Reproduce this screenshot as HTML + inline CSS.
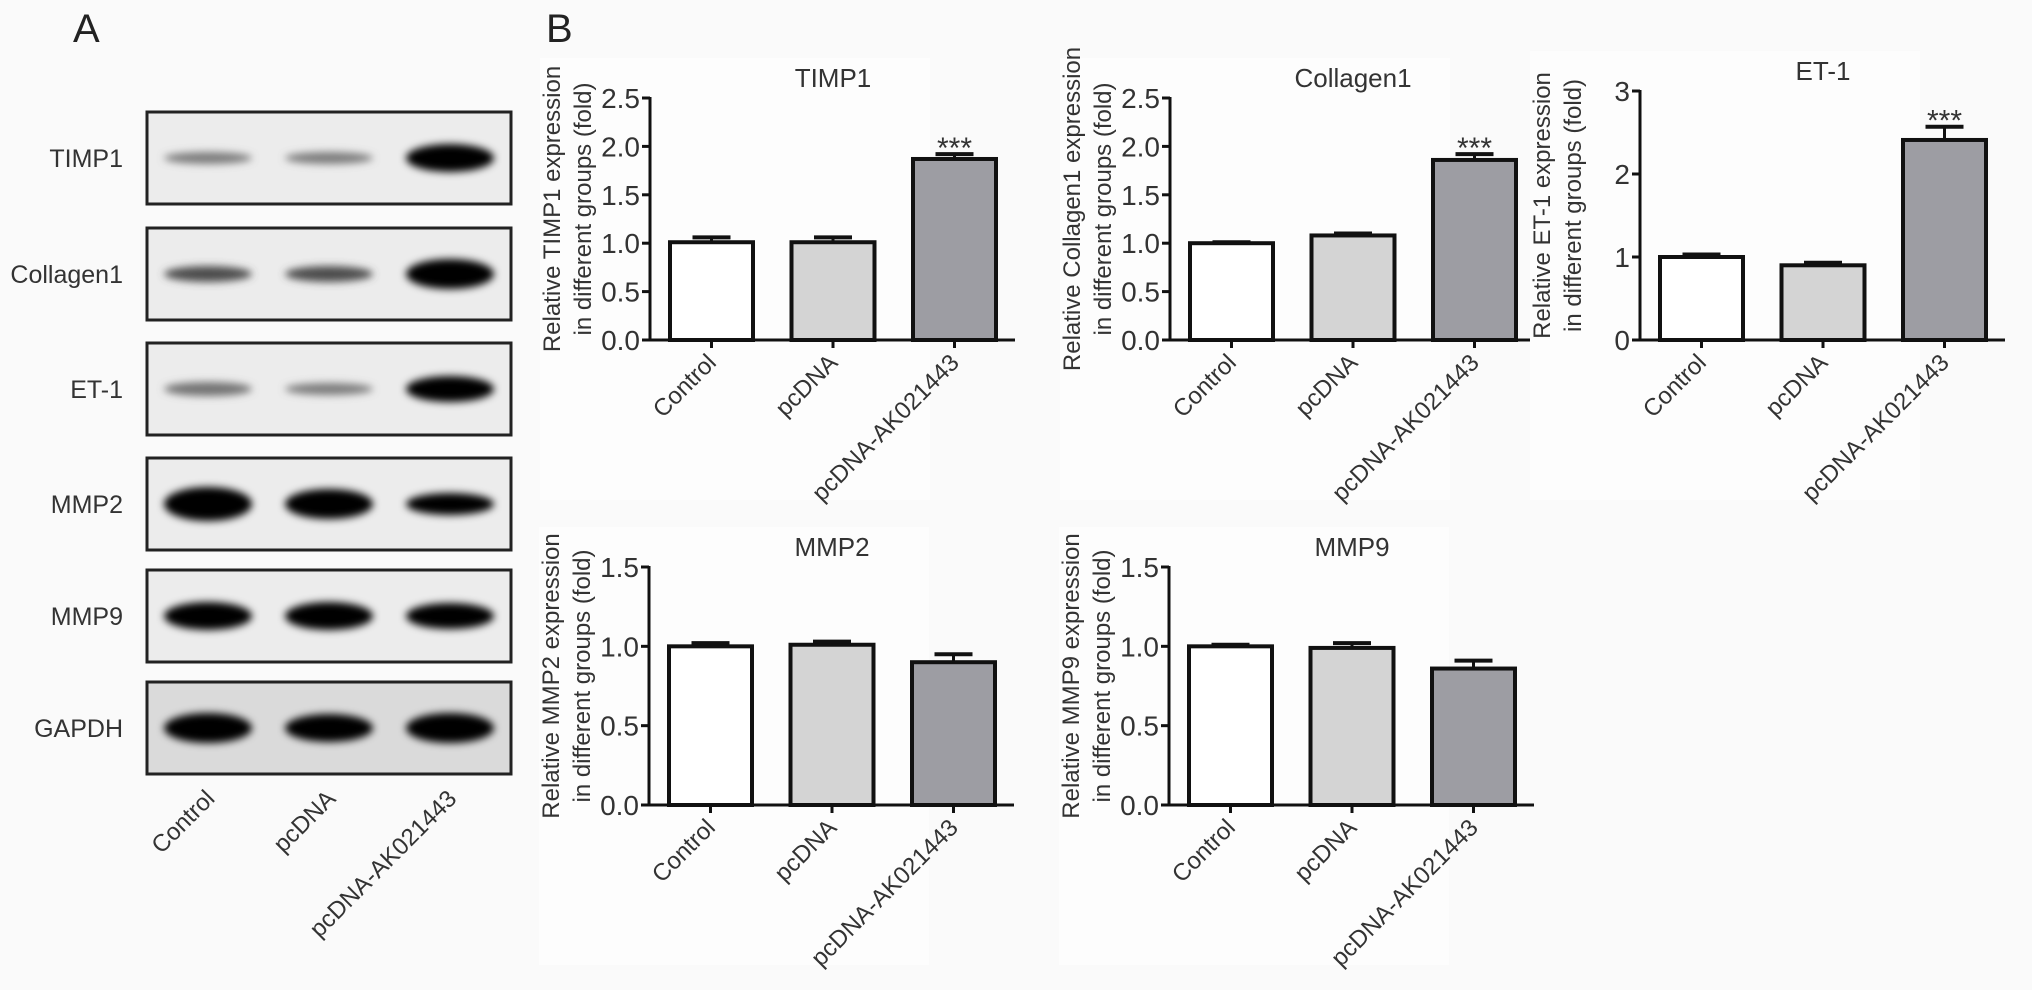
<!DOCTYPE html>
<html><head><meta charset="utf-8"><style>
html,body{margin:0;padding:0;background:#fafafa;}
svg{display:block;font-family:"Liberation Sans",Arial,sans-serif;}
</style></head><body>
<svg id="fig" width="2032" height="990" viewBox="0 0 2032 990">
<defs>
<filter id="blur" x="-30%" y="-100%" width="160%" height="300%"><feGaussianBlur stdDeviation="4"/></filter>
</defs>
<rect x="0" y="0" width="2032" height="990" fill="#fafafa"/>
<text x="73" y="42" font-size="40" fill="#222">A</text>
<text x="546" y="42" font-size="40" fill="#222">B</text>
<g id="blot"></g>
<g id="charts"></g>
</svg>
<script>
const NS="http://www.w3.org/2000/svg";
function mk(tag,attrs,parent,text){const e=document.createElementNS(NS,tag);for(const k in attrs)e.setAttribute(k,attrs[k]);if(text!==undefined)e.textContent=text;parent.appendChild(e);return e;}

// ---- Western blot data ----
const blotProteins=["TIMP1","Collagen1","ET-1","MMP2","MMP9","GAPDH"];
const blotTops=[112,228,343,458,570,682];
const laneNames=["Control","pcDNA","pcDNA-AK021443"];
const bandIntensity=[[0.35,0.35,1],[0.6,0.6,1],[0.4,0.35,1],[1,1,1],[1,1,1],[1,1,1]];
const bandThickness=[[6,6,14],[8,8,15],[7,6,13],[17,15,11],[14,14,13],[15,14,15]];
const laneX=[208,329,450];

const blot=document.getElementById('blot');
blotProteins.forEach((p,i)=>{
  const top=blotTops[i];
  const g=mk('g',{},blot);
  
  
  const bg=mk('rect',{x:147,y:top,width:364,height:92,fill:i===5?'#dadada':'#ececec',stroke:'#222','stroke-width':3},g);
  
  
  const lab=mk('text',{x:123,y:top+55,'font-size':25,'text-anchor':'end',fill:'#333'},g,p);
  
  
  laneX.forEach((lx,j)=>{
    const v=bandIntensity[i][j];
    const c=Math.round(255*(1-v)*0.75);
    const b=mk('ellipse',{cx:lx,cy:top+46,rx:44,ry:bandThickness[i][j],fill:`rgb(${c},${c},${c})`,filter:'url(#blur)'},g);
    
    
  });
});
laneNames.forEach((n,j)=>{
  const t=mk('text',{x:laneX[j]+8,y:800,'font-size':24,'text-anchor':'end',fill:'#333',transform:`rotate(-45 ${laneX[j]+8} 800)`},blot,n);
  
  
});

// ---- Bar chart data ----
const categories=["Control","pcDNA","pcDNA-AK021443"];
const chartTitles=["TIMP1","Collagen1","ET-1","MMP2","MMP9"];
const timp1Values=[1.01,1.01,1.87];
const timp1Errors=[0.05,0.05,0.05];
const collagen1Values=[1.0,1.08,1.86];
const collagen1Errors=[0.01,0.02,0.06];
const et1Values=[1.0,0.9,2.41];
const et1Errors=[0.03,0.03,0.16];
const mmp2Values=[1.0,1.01,0.9];
const mmp2Errors=[0.02,0.02,0.05];
const mmp9Values=[1.0,0.99,0.86];
const mmp9Errors=[0.01,0.03,0.05];
const yMaxes=[2.5,2.5,3,1.5,1.5];
const tickLabelsTIMP1=["0.0","0.5","1.0","1.5","2.0","2.5"];
const tickLabelsCollagen1=["0.0","0.5","1.0","1.5","2.0","2.5"];
const tickLabelsET1=["0","1","2","3"];
const tickLabelsMMP2=["0.0","0.5","1.0","1.5"];
const tickLabelsMMP9=["0.0","0.5","1.0","1.5"];
const significance=["","","***"];

const charts=[
 {title:"TIMP1",vals:timp1Values,errs:timp1Errors,ticks:tickLabelsTIMP1,max:yMaxes[0],ax:650,y0:340,y1:98,sig:true},
 {title:"Collagen1",vals:collagen1Values,errs:collagen1Errors,ticks:tickLabelsCollagen1,max:yMaxes[1],ax:1170,y0:340,y1:98,sig:true},
 {title:"ET-1",vals:et1Values,errs:et1Errors,ticks:tickLabelsET1,max:yMaxes[2],ax:1640,y0:340,y1:91,sig:true},
 {title:"MMP2",vals:mmp2Values,errs:mmp2Errors,ticks:tickLabelsMMP2,max:yMaxes[3],ax:649,y0:805,y1:567,sig:false},
 {title:"MMP9",vals:mmp9Values,errs:mmp9Errors,ticks:tickLabelsMMP9,max:yMaxes[4],ax:1169,y0:805,y1:567,sig:false}
];
const fills=["#ffffff","#d4d4d4","#9d9da3"];
const root=document.getElementById('charts');
charts.forEach((c)=>{
  const g=mk('g',{},root);
  
  
  const y=v=>c.y0-(v/c.max)*(c.y0-c.y1);
  const bx=i=>c.ax+20+i*121.5;
  const bw=83;
  mk('rect',{x:c.ax-110,y:c.y1-40,width:390,height:c.y0-c.y1+200,fill:'#fdfdfd'},g);
  const tt=mk('text',{x:c.ax+183,y:c.y1-11,'font-size':26,'text-anchor':'middle',fill:'#333'},g,c.title);
  
  
  const cy=(c.y0+c.y1)/2-10;
  const yt=mk('text',{x:0,y:0,'font-size':24,'text-anchor':'middle',fill:'#333',transform:`translate(${c.ax-90} ${cy}) rotate(-90)`},g);
  
  
  mk('tspan',{x:0,dy:0},yt,`Relative ${c.title} expression`);
  mk('tspan',{x:0,dy:31},yt,'in different groups (fold)');
  c.vals.forEach((v,i)=>{
    const top=y(v);
    const b=mk('rect',{x:bx(i),y:top,width:bw,height:c.y0-top,fill:fills[i],stroke:'#111','stroke-width':4},g);
    
    
    const cx=bx(i)+bw/2, et=y(v+c.errs[i]);
    const e1=mk('line',{x1:cx,x2:cx,y1:top,y2:et,stroke:'#111','stroke-width':3},g);
    
    
    const e2=mk('line',{x1:cx-19,x2:cx+19,y1:et,y2:et,stroke:'#111','stroke-width':4},g);
    
    
    if(c.sig&&significance[i]){
      const s=mk('text',{x:cx,y:et+4,'font-size':30,'text-anchor':'middle',fill:'#333'},g,significance[i]);
      
      
    }
    mk('line',{x1:cx,x2:cx,y1:c.y0,y2:c.y0+8,stroke:'#111','stroke-width':3},g);
    const lx=cx+6, ly=c.y0+24;
    const xl=mk('text',{x:lx,y:ly,'font-size':24,'text-anchor':'end',fill:'#333',transform:`rotate(-45 ${lx} ${ly})`},g,categories[i]);
    
    
  });
  const ya=mk('line',{x1:c.ax,x2:c.ax,y1:c.y1-1,y2:c.y0+1,stroke:'#111','stroke-width':3},g);
  
  
  const xa=mk('line',{x1:c.ax-8,x2:c.ax+365,y1:c.y0,y2:c.y0,stroke:'#111','stroke-width':3},g);
  
  
  c.ticks.forEach((t,k)=>{
    const v=k*c.max/(c.ticks.length-1), ty=y(v);
    mk('line',{x1:c.ax-8,x2:c.ax,y1:ty,y2:ty,stroke:'#111','stroke-width':3},g);
    const tl=mk('text',{x:c.ax-10,y:ty+10,'font-size':28,'text-anchor':'end',fill:'#333'},g,t);
    
    
  });
});
</script>
</body></html>
